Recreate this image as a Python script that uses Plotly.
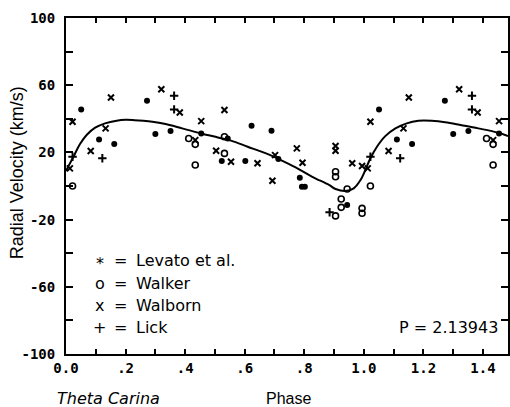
import plotly.graph_objects as go

# ---- data (phase, radial velocity km/s) ----
levato_phase = [0.051, 0.111, 0.162, 0.272, 0.300, 0.351, 0.454, 0.543, 0.523, 0.602,
                0.623, 0.690, 0.713, 0.785, 0.792, 0.802, 0.944]
levato_vel = [45.6, 27.7, 25.0, 50.7, 30.9, 32.7, 31.3, 28.3, 14.9, 14.9,
              35.8, 32.9, 16.0, 4.9, -0.4, -0.4, -11.3]

walker_phase = [0.022, 0.412, 0.434, 0.434, 0.532, 0.532, 0.905, 0.905, 0.944, 0.924,
                0.924, 0.905, 0.994, 0.994]
walker_vel = [0.0, 28.3, 24.8, 12.5, 29.3, 19.4, 8.5, 5.5, -1.8, -7.7,
              -12.7, -17.8, -13.3, -16.2]

walborn_phase = [0.013, 0.022, 0.083, 0.133, 0.151, 0.320, 0.382, 0.434, 0.454, 0.504,
                 0.532, 0.554, 0.643, 0.693, 0.702, 0.775, 0.794, 0.905, 0.905, 0.961, 0.994]
walborn_vel = [10.5, 38.2, 20.8, 34.3, 52.7, 57.6, 43.8, 27.3, 38.6, 21.0,
               45.2, 14.4, 13.5, 3.1, 18.4, 22.4, 13.8, 23.8, 21.0, 13.5, 11.9]

lick_phase = [0.022, 0.122, 0.363, 0.363, 0.885]
lick_vel = [17.4, 16.5, 53.7, 45.6, -15.6]

curve_phase = [0.0, 0.025, 0.047, 0.070, 0.098, 0.131, 0.170, 0.20, 0.23, 0.26, 0.29, 0.33,
               0.39, 0.454, 0.51, 0.554, 0.61, 0.68, 0.716, 0.771, 0.827, 0.883, 0.905,
               0.938, 0.966, 0.989, 1.005, 1.022, 1.044, 1.072, 1.106, 1.144, 1.183, 1.228,
               1.273, 1.328, 1.384, 1.451, 1.484]
curve_vel = [9.0, 17.4, 25.0, 30.5, 34.7, 37.3, 38.9, 39.4, 39.2, 38.8, 38.2, 37.0,
             34.3, 31.3, 28.9, 27.0, 23.4, 18.8, 15.9, 11.1, 5.5, 0.6, -1.8,
             -3.0, -1.4, 3.6, 9.5, 16.5, 23.4, 29.7, 34.3, 37.3, 38.8, 38.8,
             38.0, 36.2, 34.3, 31.7, 29.7]

x_tick_vals = [0.0, 0.1, 0.2, 0.3, 0.4, 0.5, 0.6, 0.7, 0.8, 0.9, 1.0, 1.1, 1.2, 1.3, 1.4]
x_tick_text = ["0.0", "", ".2", "", ".4", "", ".6", "", ".8", "", "1.0", "", "1.2", "", "1.4"]
y_tick_vals = [-100, -80, -60, -40, -20, 0, 20, 40, 60, 80, 100]
y_tick_text = ["-100", "", "-60", "", "-20", "", "20", "", "60", "", "100"]

legend_symbols = ["*", "o", "x", "+"]
legend_names = ["Levato et al.", "Walker", "Walborn", "Lick"]
period_text = "P = 2.13943"
star_name = "Theta Carina"

X_MAX = 1.484


def folded(ph, v):
    """Observations plotted over phase 0..1.5 (each repeated one cycle later)."""
    xs = list(ph) + [p + 1 for p in ph if p + 1 <= X_MAX]
    ys = list(v) + [vv for p, vv in zip(ph, v) if p + 1 <= X_MAX]
    return xs, ys


fig = go.Figure()

fig.add_trace(go.Scatter(x=curve_phase, y=curve_vel, mode="lines",
                         line=dict(color="black", width=2, shape="spline", smoothing=1.0),
                         hoverinfo="skip"))

x, y = folded(levato_phase, levato_vel)
fig.add_trace(go.Scatter(x=x, y=y, mode="markers", name="Levato et al.",
                         marker=dict(symbol="circle", size=6, color="black")))
x, y = folded(walker_phase, walker_vel)
fig.add_trace(go.Scatter(x=x, y=y, mode="markers", name="Walker",
                         marker=dict(symbol="circle-open", size=6, color="black",
                                     line=dict(width=1.6, color="black"))))
x, y = folded(walborn_phase, walborn_vel)
fig.add_trace(go.Scatter(x=x, y=y, mode="markers", name="Walborn",
                         marker=dict(symbol="x-thin", size=6, color="black",
                                     line=dict(width=2, color="black"))))
x, y = folded(lick_phase, lick_vel)
fig.add_trace(go.Scatter(x=x, y=y, mode="markers", name="Lick",
                         marker=dict(symbol="cross-thin", size=6, color="black",
                                     line=dict(width=2, color="black"))))

L, R, T, B = 66, 0, 18, 53
W, H = 510, 407
pw, ph_ = W - L - R, H - T - B


def px(xp):
    return (xp - L) / pw


def py(yp):
    return (H - B - yp) / ph_


tick_font = dict(family="DejaVu Sans Mono", size=14, color="black", weight="bold")
text_font = dict(family="DejaVu Sans", size=16, color="black")

annotations = []
row_y = [260.7, 283.0, 305.5, 327.7]
for sym, name, yy in zip(legend_symbols, legend_names, row_y):
    annotations.append(dict(x=px(100), y=py(yy), text=sym, xanchor="center", yanchor="middle",
                            yshift=-3 if sym == "*" else 0))
    annotations.append(dict(x=px(121), y=py(yy), text="=", xanchor="center", yanchor="middle"))
    annotations.append(dict(x=px(134), y=py(yy), text=name, xanchor="left", yanchor="middle"))
annotations.append(dict(x=px(502), y=py(327.7), text=period_text, xanchor="right", yanchor="middle"))
for a in annotations:
    a.update(xref="paper", yref="paper", showarrow=False, font=text_font)

annotations.append(dict(x=px(17), y=py(173), xref="paper", yref="paper", text="Radial Velocity (km/s)",
                        textangle=-90, showarrow=False, xanchor="center", yanchor="middle",
                        font=dict(family="Liberation Sans", size=18, color="black")))
annotations.append(dict(x=px(290), y=py(398), xref="paper", yref="paper", text="Phase",
                        showarrow=False, xanchor="center", yanchor="middle",
                        font=dict(family="Liberation Sans", size=16, color="black")))
annotations.append(dict(x=px(55), y=py(398), xref="paper", yref="paper", text="<i>" + star_name + "</i>",
                        showarrow=False, xanchor="left", yanchor="middle",
                        font=dict(family="DejaVu Sans", size=16, color="black")))

fig.update_layout(
    width=W, height=H,
    margin=dict(l=L, r=R, t=T, b=B, pad=0),
    paper_bgcolor="white", plot_bgcolor="white",
    showlegend=False,
    annotations=annotations,
    xaxis=dict(range=[0, X_MAX], tickvals=x_tick_vals, ticktext=x_tick_text,
               ticks="inside", ticklen=5, tickwidth=1.5, tickcolor="black",
               showline=True, linecolor="black", linewidth=2, mirror="ticks",
               showgrid=False, zeroline=False, tickfont=tick_font),
    yaxis=dict(range=[-100, 100], tickvals=y_tick_vals, ticktext=y_tick_text,
               ticks="inside", ticklen=7, tickwidth=1.5, tickcolor="black",
               showline=True, linecolor="black", linewidth=2, mirror="ticks",
               showgrid=False, zeroline=False, tickfont=tick_font, ticklabelstandoff=6),
)

fig.write_html("out.html", config={"displayModeBar": False},
               post_script="document.body.style.margin='0';document.body.style.overflow='hidden';")
